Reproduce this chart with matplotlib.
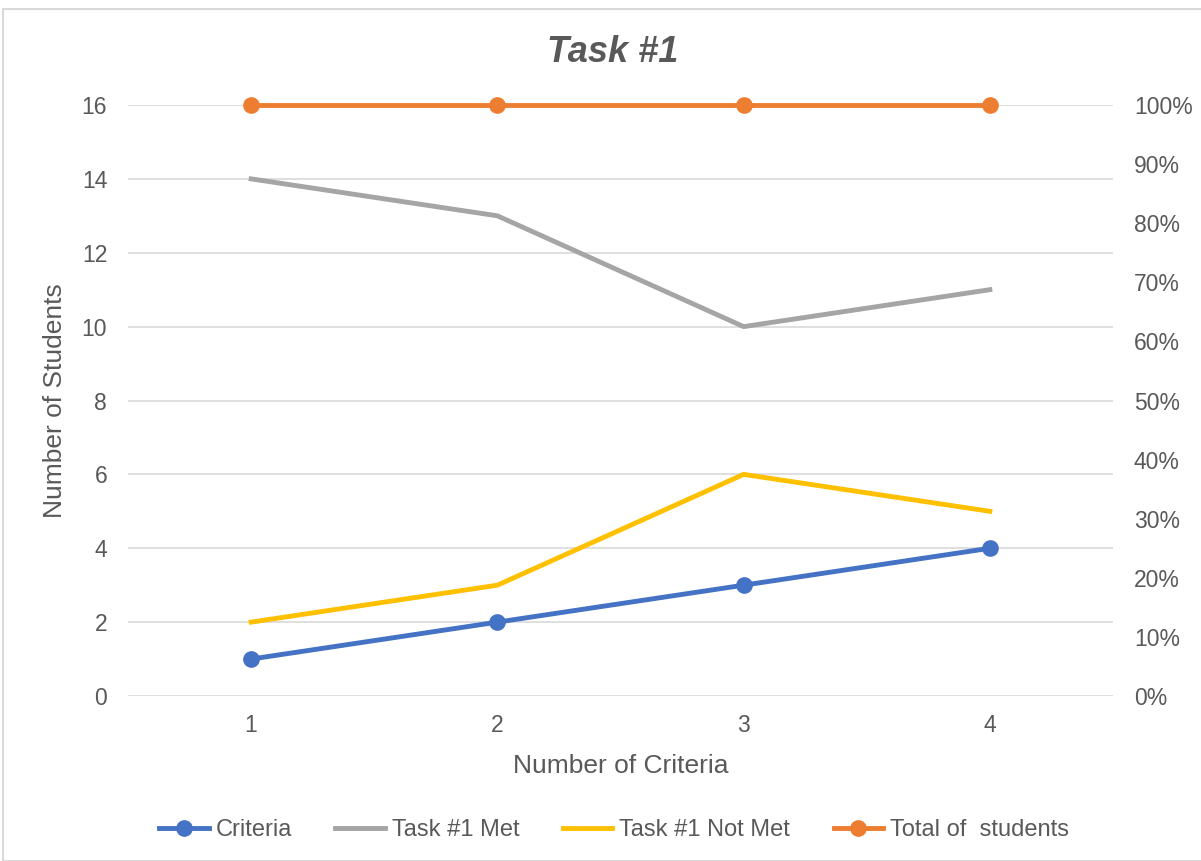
import matplotlib.pyplot as plt
from matplotlib.ticker import PercentFormatter, MultipleLocator
from matplotlib.patches import Rectangle

# data
criteria_labels = ['1', '2', '3', '4']
criteria = [1, 2, 3, 4]
task_met = [14, 13, 10, 11]
task_not_met = [2, 3, 6, 5]
total_students = [16, 16, 16, 16]

txt = '#595959'
grid = '#D9D9D9'
plt.rcParams['font.family'] = ['Liberation Sans', 'DejaVu Sans']

fig = plt.figure(figsize=(12.01, 8.61), dpi=100)
ax = fig.add_axes([128/1201, 1 - 696/861, (1113-128)/1201, (696-105)/861])
ax2 = ax.twinx()

x = range(len(criteria_labels))
ax.plot(x, criteria, color='#4472C4', lw=3.5, marker='o', ms=11, label='Criteria', zorder=3)
ax.plot(x, task_met, color='#A5A5A5', lw=3.5, label='Task #1 Met', zorder=3)
ax.plot(x, task_not_met, color='#FFC000', lw=3.5, label='Task #1 Not Met', zorder=3)
ax.plot(x, total_students, color='#ED7D31', lw=3.5, marker='o', ms=11,
        label='Total of  students', zorder=3, clip_on=False)

ax.set_xlim(-0.5, len(criteria_labels) - 0.5)
ax.set_ylim(0, 16)
ax.yaxis.set_major_locator(MultipleLocator(2))
ax.set_xticks(list(x))
ax.set_xticklabels(criteria_labels)
ax.grid(axis='y', color=grid, lw=1.2)
ax.set_axisbelow(True)

ax2.set_ylim(0, 1)
ax2.yaxis.set_major_locator(MultipleLocator(0.1))
ax2.yaxis.set_major_formatter(PercentFormatter(1.0, decimals=0))

for a in (ax, ax2):
    for s in a.spines.values():
        s.set_visible(False)
    a.tick_params(length=0, colors=txt, labelsize=16.5)
ax.tick_params(axis='y', pad=15)
ax.tick_params(axis='x', pad=13)
ax2.tick_params(axis='y', pad=15)

ax.set_xlabel('Number of Criteria', fontsize=19, color=txt, labelpad=12)
ax.set_ylabel('Number of Students', fontsize=19, color=txt)
ax.yaxis.set_label_coords((67 - 128) / 985, 0.5)
fig.text(613/1201, 1 - 52/861, 'Task #1', fontsize=26, fontweight='bold', fontstyle='italic',
         color=txt, ha='center', va='center')

ax.legend(loc='center', bbox_to_anchor=(614/1201, 1 - 830/861), bbox_transform=fig.transFigure,
          ncol=4, frameon=False, fontsize=17, labelcolor=txt, handlelength=2.1,
          handletextpad=0.28, columnspacing=1.85)

fig.patches.append(Rectangle((3/1201, 0), 1.0, 1 - 9/861, transform=fig.transFigure,
                             fill=False, edgecolor='#D9D9D9', lw=1.5))

fig.savefig('out.png', dpi=100)
